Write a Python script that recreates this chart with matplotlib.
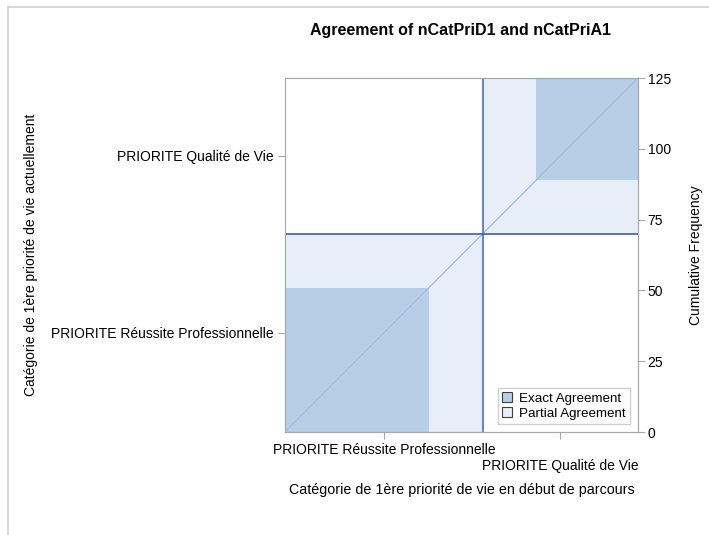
import matplotlib.pyplot as plt
from matplotlib.patches import Rectangle, Patch
from matplotlib.lines import Line2D

plt.rcParams['font.family'] = ['Liberation Sans', 'DejaVu Sans']

# rows = current priority (y), cols = start priority (x)
categories = ['PRIORITE Réussite Professionnelle', 'PRIORITE Qualité de Vie']
counts = [[51, 19],
          [19, 36]]

exact_col = '#b8cde6'
partial_col = '#e8eef7'

n = sum(sum(r) for r in counts)
row_tot = [sum(r) for r in counts]
col_tot = [sum(counts[i][j] for i in range(2)) for j in range(2)]

fig = plt.figure(figsize=(7.09, 5.35), dpi=100)
ax = fig.add_axes([285 / 709, 1 - 432 / 535, 353 / 709, 354 / 535])

xc = 0
yc = 0
x_centers = []
y_centers = []
for k in range(2):
    # big rectangle for category k (partial agreement)
    ax.add_patch(Rectangle((xc, yc), col_tot[k], row_tot[k], fc=partial_col, ec='none', zorder=1))
    # exact agreement square, offset by earlier off-diagonal counts
    xo = xc + sum(counts[i][k] for i in range(k))
    yo = yc + sum(counts[k][j] for j in range(k))
    ax.add_patch(Rectangle((xo, yo), counts[k][k], counts[k][k], fc=exact_col, ec='none', zorder=2))
    x_centers.append(xc + col_tot[k] / 2)
    y_centers.append(yc + row_tot[k] / 2)
    xc += col_tot[k]
    yc += row_tot[k]

ax.plot([0, n], [0, n], color='#a9bde3', lw=1, zorder=3)
ax.axvline(col_tot[0], color='#6a87c8', lw=1.5, zorder=4)
ax.axhline(row_tot[0], color='#3f5fa8', lw=1.2, zorder=4)

ax.set_xlim(0, n)
ax.set_ylim(0, n)
for s in ax.spines.values():
    s.set_color('#a8a8a8')

ax.set_xticks(x_centers)
ax.set_xticklabels([categories[0], '\n' + categories[1]], fontsize=10)
ax.set_yticks(y_centers)
ax.set_yticklabels(categories, fontsize=10)
ax.tick_params(color='#a8a8a8', length=5, pad=3)
ax.set_xlabel('Catégorie de 1ère priorité de vie en début de parcours', fontsize=10.3, labelpad=7)
ax.set_ylabel('Catégorie de 1ère priorité de vie actuellement', fontsize=10)
ax.yaxis.set_label_coords(-0.7, 0.5)

ax2 = ax.twinx()
ax2.set_ylim(0, n)
ax2.set_yticks([0, 25, 50, 75, 100, 125])
ax2.tick_params(color='#a8a8a8', length=5, labelsize=10, pad=2)
for s in ax2.spines.values():
    s.set_color('#a8a8a8')
ax2.set_ylabel('Cumulative Frequency', fontsize=10, labelpad=13)

handles = [Patch(fc=exact_col, ec='#404040', lw=0.8, label='Exact Agreement'),
           Patch(fc=partial_col, ec='#404040', lw=0.8, label='Partial Agreement')]
leg = ax2.legend(handles=handles, loc='lower right', fontsize=9.6, handlelength=0.75, handleheight=0.75,
                 handletextpad=0.5, borderpad=0.3, labelspacing=0.15, fancybox=False,
                 bbox_to_anchor=(0.995, 0.005), framealpha=1)
leg.get_frame().set_edgecolor('#d0d0d0')

fig.text(460 / 709, 1 - 30 / 535, 'Agreement of nCatPriD1 and nCatPriA1', ha='center', va='center',
         fontsize=11.5, fontweight='bold')

# outer frame lines
fig.add_artist(Line2D([8 / 709, 8 / 709], [0, 1 - 7 / 535], color='#d0d0d0', lw=1.2))
fig.add_artist(Line2D([8 / 709, 1], [1 - 7 / 535, 1 - 7 / 535], color='#d0d0d0', lw=1.2))

fig.savefig('out.png', dpi=100)
